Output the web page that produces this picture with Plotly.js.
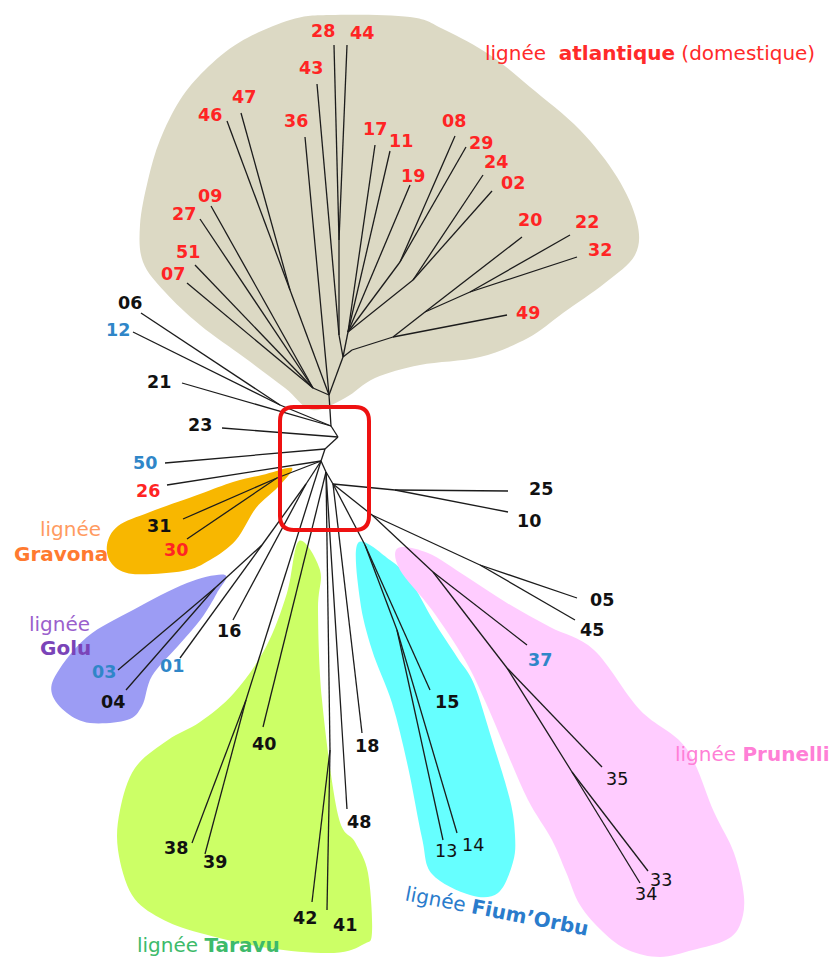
<!DOCTYPE html>
<html><head><meta charset="utf-8">
<script src="https://cdn.plot.ly/plotly-3.0.1.min.js"></script>
<style>html,body{margin:0;padding:0;background:#fff}#chart{width:839px;height:960px}</style>
</head><body><div id="chart"></div>
<script>
// ---- tree (node positions) ----
const nodeIds    = ['R','A','B','n06','n12','n21','n23','T0','L','n07','n51','n27','n09','K47','n46','n47','n36','T1','M','n43','M1','n28','n44','P','n17','n11','n19','Q','n08','n29','S','n24','n02','N1','N2','n49','N3','n20','N4','n22','n32',
  'D1','n50','D2','n26','G','n31','n30','J','I','H','n03','n04','n01','n16','K','n38','n39','D3','n40','O','n42','n41','n48','D4','n18','E','n25','n10','F','n15','F2','n13','n14','P1','W','n05','n45','Pn','n37','Pn2','n35','Pn3','n33','n34'];
const nodeX      = [338,331,280,141,133,182,222,329,313,187,195,200,211,290,227,241,305,343,339,317,339,334,347,348,375,390,410,400,455,466,413,483,492,352,393,507,425,522,470,570,577,
  325,165,321,167,277,183,187,306,262,215,118,126,180,233,246,192,205,326,263,330,312,327,347,333,362,395,508,508,365,430,397,443,457,372,480,577,575,433,527,507,602,572,648,640];
const nodeY      = [437,426,405,313,332,383,428,395,388,283,265,219,206,290,121,113,137,357,335,84,240,45,45,332,145,151,185,262,136,147,280,175,191,350,337,315,312,237,292,235,257,
  449,463,461,485,478,519,539,484,545,588,670,690,658,620,700,843,854,472,727,750,902,910,809,484,733,490,491,512,545,690,630,840,833,515,565,598,620,572,645,668,767,772,871,883];
const nodeParent = [null,'R','A','B','B','A','R','A','T0','L','L','L','L','T0','K47','K47','T0','T0','T1','M','M','M1','M1','T1','P','P','P','P','Q','Q','P','S','S','T1','N1','N2','N2','N3','N3','N4','N4',
  'R','D1','D1','D2','D2','G','G','D2','J','I','H','H','I','J','D2','K','K','D2','D3','D3','O','O','D3','D3','D4','D4','E','E','D4','F','F','F2','F2','D4','P1','W','W','P1','Pn','Pn','Pn2','Pn2','Pn3','Pn3'];

// ---- leaf labels ----
const leafText  = ['28','44','43','47','46','36','17','11','19','09','27','51','07','08','29','24','02','20','22','32','49','26','30',
  '06','21','23','25','10','31','04','16','05','45','15','18','40','48','38','39','42','41','13','14','35','33','34',
  '12','50','03','01','37'];
const leafX     = [323,362,311,244,210,296,375,401,413,210,184,188,173,454,481,496,513,530,587,600,528,148,176,
  130,159,200,541,529,159,113,229,602,592,447,367,264,359,176,215,305,345,446,473,617,661,646,
  118,145,104,172,540];
const leafY     = [31,33,68,97,115,121,129,141,176,196,214,252,274,121,143,162,183,220,222,250,313,491,550,
  303,382,425,489,521,526,702,631,600,630,702,746,744,822,848,862,918,925,851,845,779,880,894,
  330,463,672,666,660];
const leafGroup = ['r','r','r','r','r','r','r','r','r','r','r','r','r','r','r','r','r','r','r','r','r','r','r',
  'k','k','k','k','k','k','k','k','k','k','k','k','k','k','k','k','k','k','n','n','n','n','n',
  'b','b','b','b','b'];

// ---- lineage outlines ----
const atlX = [312,285,245,200,165,143,140,148,160,180,205,240,290,330,410,445,490,530,580,617,637,635,605,563,528,480,420,375,345];
const atlY = [410,388,358,325,292,262,225,180,140,100,70,42,20,15,17,30,55,87,130,177,222,255,283,313,338,357,365,378,398];
const graX = [292,262,233,200,150,118,107,112,133,183,210,236,256,278];
const graY = [468,475,482,494,512,526,545,564,574,571,560,540,508,487];
const goluX = [225,187,133,87,57,52,67,90,127,142,152,178,201,217];
const goluY = [575,583,610,637,673,694,713,723,720,706,676,646,619,593];
const tarX = [299,320,318,322,338,355,368,372,364,334,268,200,160,132,118,120,135,168,200,234,266,287];
const tarY = [541,570,610,700,815,842,873,932,944,953,948,933,918,895,850,810,768,740,722,693,647,593];
const fiuX = [358,390,410,433,457,474,492,510,515,513,498,470,432,422,408,392,372,360];
const fiuY = [543,560,580,620,657,684,740,800,835,862,893,895,874,838,767,703,650,600];
const pruX = [398,428,467,507,550,594,640,686,714,734,744,740,726,693,660,628,603,580,566,552,528,506,486,465,432,400];
const pruY = [548,553,577,603,627,650,710,748,812,853,897,925,940,950,957,950,932,905,872,840,800,750,703,660,610,570];

// ---- build line segments from the tree ----
const idx = {};
nodeIds.forEach((id, i) => idx[id] = i);
const ex = [], ey = [];
nodeIds.forEach((id, i) => {
  const p = nodeParent[i];
  if (p === null) return;
  const j = idx[p];
  ex.push(nodeX[j], nodeX[i], null);
  ey.push(nodeY[j], nodeY[i], null);
});

function smoothPath(xs, ys) {
  const n = xs.length;
  let d = 'M ' + xs[0] + ' ' + ys[0];
  for (let i = 0; i < n; i++) {
    const i0 = (i - 1 + n) % n, i2 = (i + 1) % n, i3 = (i + 2) % n;
    const c1x = xs[i] + (xs[i2] - xs[i0]) / 6, c1y = ys[i] + (ys[i2] - ys[i0]) / 6;
    const c2x = xs[i2] - (xs[i3] - xs[i]) / 6, c2y = ys[i2] - (ys[i3] - ys[i]) / 6;
    d += ' C ' + c1x.toFixed(1) + ' ' + c1y.toFixed(1) + ' ' + c2x.toFixed(1) + ' ' + c2y.toFixed(1) + ' ' + xs[i2] + ' ' + ys[i2];
  }
  return d + ' Z';
}
function blob(xs, ys, color) {
  return {type: 'path', xref: 'x', yref: 'y', layer: 'below', path: smoothPath(xs, ys),
          fillcolor: color, line: {width: 0}};
}
function roundRect(x0, y0, x1, y1, r) {
  return 'M ' + (x0 + r) + ' ' + y0 + ' L ' + (x1 - r) + ' ' + y0 + ' Q ' + x1 + ' ' + y0 + ' ' + x1 + ' ' + (y0 + r) +
    ' L ' + x1 + ' ' + (y1 - r) + ' Q ' + x1 + ' ' + y1 + ' ' + (x1 - r) + ' ' + y1 +
    ' L ' + (x0 + r) + ' ' + y1 + ' Q ' + x0 + ' ' + y1 + ' ' + x0 + ' ' + (y1 - r) +
    ' L ' + x0 + ' ' + (y0 + r) + ' Q ' + x0 + ' ' + y0 + ' ' + (x0 + r) + ' ' + y0 + ' Z';
}

const shapes = [
  blob(atlX, atlY, '#dcd9c4'),
  blob(graX, graY, '#f8b700'),
  blob(goluX, goluY, '#9c9cf4'),
  blob(tarX, tarY, '#ccff66'),
  blob(fiuX, fiuY, '#66ffff'),
  blob(pruX, pruY, '#ffccff'),
  {type: 'path', xref: 'x', yref: 'y', layer: 'above', path: roundRect(280, 407, 369, 530, 14),
   line: {color: '#ee1111', width: 4}, fillcolor: 'rgba(0,0,0,0)'}
];

const FONT = 'DejaVu Sans, Verdana, sans-serif';
const groupColor = {r: '#ff2424', k: '#111111', n: '#111111', b: '#2f86c8'};
const annotations = leafText.map((t, i) => ({
  x: leafX[i], y: leafY[i], xref: 'x', yref: 'y', showarrow: false,
  xanchor: 'center', yanchor: 'middle',
  text: leafGroup[i] === 'n' ? t : '<b>' + t + '</b>',
  font: {family: FONT, size: 17.5, color: groupColor[leafGroup[i]]}
}));
function lab(text, x, y, color, anchor, angle) {
  annotations.push({x: x, y: y, xref: 'x', yref: 'y', showarrow: false, xanchor: anchor || 'center',
    yanchor: 'middle', text: text, textangle: angle || 0, font: {family: FONT, size: 20, color: color}});
}
lab('lignée  <b>atlantique</b> (domestique)', 483, 53, '#ff2a2a', 'left');
lab('lignée', 70, 529, '#ff9a60');
lab('<b>Gravona</b>', 61, 554, '#ff7a30');
lab('lignée', 59, 624, '#9a60cc');
lab('<b>Golu</b>', 65, 648, '#7a44b8');
lab('lignée <b>Taravu</b>', 135, 945, '#3dba6a', 'left');
lab('lignée <b>Fium\u2019Orbu</b>', 497, 911, '#2a7ccc', 'center', 11);
lab('lignée <b>Prunelli</b>', 673, 754, '#ff7fd6', 'left');

const traces = [{
  type: 'scatter', mode: 'lines', x: ex, y: ey, hoverinfo: 'skip',
  line: {color: '#1c1c1c', width: 1.3}
}];

const layout = {
  width: 839, height: 960, margin: {l: 0, r: 0, t: 0, b: 0},
  paper_bgcolor: '#ffffff', plot_bgcolor: '#ffffff', showlegend: false,
  xaxis: {range: [0, 839], visible: false, fixedrange: true},
  yaxis: {range: [960, 0], visible: false, fixedrange: true},
  shapes: shapes, annotations: annotations
};
Plotly.newPlot('chart', traces, layout, {displayModeBar: false, staticPlot: true});
</script></body></html>
